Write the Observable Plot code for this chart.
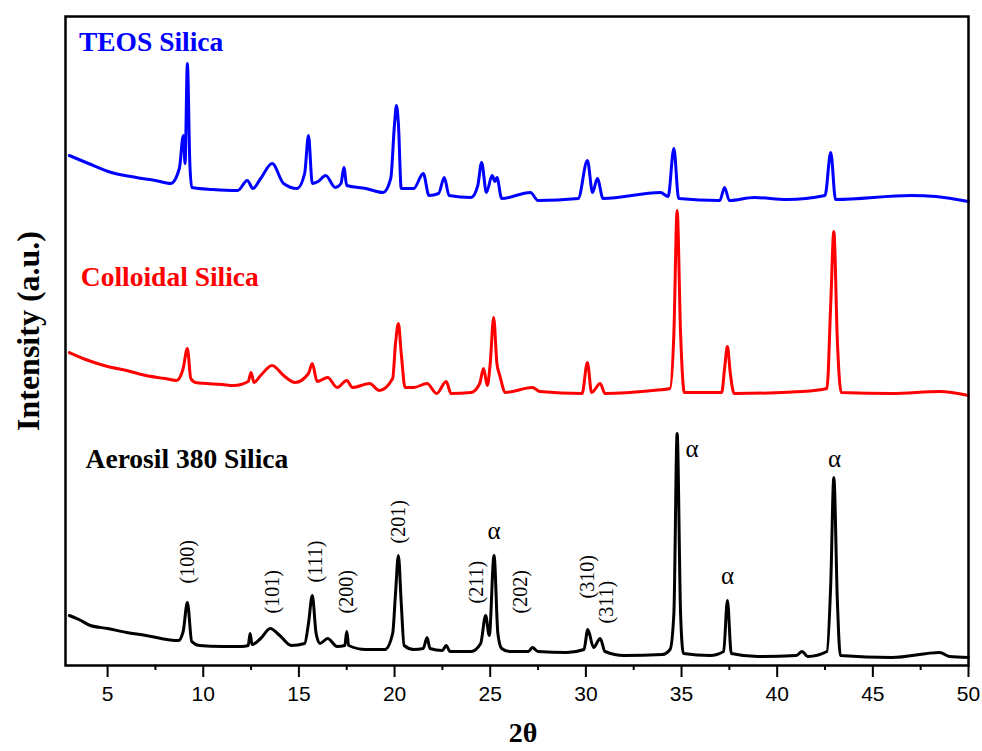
<!DOCTYPE html>
<html>
<head>
<meta charset="utf-8">
<script src="https://cdn.jsdelivr.net/npm/d3@7"></script>
<script src="https://cdn.jsdelivr.net/npm/@observablehq/plot@0.6"></script>
<style>
  html, body { margin: 0; padding: 0; background: #fff; }
</style>
</head>
<body>
<div id="chart"></div>
<script>
// ---- Data (2θ in degrees, intensity in a.u.) ----
const aerosilTheta = [3.0,3.5,4.1,5.0,6.0,7.0,7.8,8.7,8.95,9.17,9.4,9.8,11.0,12.0,12.35,12.45,12.55,13.0,13.5,14.0,14.6,15.3,15.5,15.7,15.9,16.1,16.5,17.0,17.4,17.5,17.6,18.5,19.5,19.9,20.05,20.2,20.35,20.5,21.0,21.5,21.7,21.85,22.5,22.7,22.9,24.0,24.5,24.76,24.95,25.2,25.4,25.6,26.0,27.0,27.2,27.5,29.0,29.9,30.1,30.4,30.75,31.0,32.0,34.0,34.4,34.6,34.77,34.95,35.1,36.5,37.2,37.4,37.6,39.0,41.0,41.3,41.6,42.6,42.8,42.96,43.15,43.3,46.0,48.5,49.0,50.0];
const aerosilI     = [48,44,38,35,31,28,25,23,32,61,22,18,17,17,18,30,19,25,35,28,18,20,40,68,30,20,25,17,18,32,18,14,14,30,70,108,60,18,14,15,26,15,13,18,12,12,20,48,28,108,30,15,12,12,16,12,11,14,34,16,25,12,8,9,14,50,230,50,10,8,12,63,10,7,8,12,7,12,80,186,60,8,6,11,7,6];

const colloidalTheta = [3.0,4.0,5.0,6.0,7.0,8.0,8.6,8.95,9.17,9.35,9.6,11.0,11.6,12.35,12.5,12.65,13.0,13.6,14.2,14.8,15.5,15.7,15.95,16.5,17.0,17.5,17.8,18.7,19.2,19.9,20.05,20.2,20.35,20.55,21.0,21.7,22.2,22.7,22.95,24.0,24.45,24.65,24.85,25.0,25.18,25.35,25.5,25.8,27.2,27.6,29.8,30.08,30.3,30.75,31.0,33.5,34.4,34.6,34.77,34.95,35.15,37.1,37.25,37.4,37.55,37.75,41.3,42.6,42.8,42.96,43.15,43.35,46.0,48.5,50.0];
const colloidalI     = [311,303,297,293,288,285,283,295,315,285,281,279,278,282,291,281,288,298,288,281,290,300,282,286,276,283,276,280,273,285,320,340,310,276,276,280,270,282,270,271,280,295,278,300,346,300,288,271,276,272,270,301,271,280,270,273,275,330,453,330,271,271,295,317,290,270,272,275,360,432,320,271,270,272,268];

const teosTheta = [3.0,4.0,5.2,6.5,7.5,8.3,8.75,8.96,9.05,9.17,9.3,9.4,10.5,11.8,12.3,12.6,13.0,13.6,14.2,14.9,15.3,15.5,15.7,16.0,16.4,16.9,17.2,17.35,17.5,18.5,19.4,19.8,20.0,20.1,20.2,20.35,21.0,21.5,21.8,22.3,22.6,22.85,24.0,24.35,24.55,24.8,25.1,25.25,25.35,25.6,27.1,27.5,29.6,30.08,30.35,30.6,30.9,33.9,34.3,34.6,34.85,37.0,37.25,37.5,38.8,40.5,42.5,42.8,43.05,47.0,48.3,50.0];
const teosI     = [508,500,491,486,483,480,495,528,500,600,500,476,474,473,483,475,485,500,480,475,490,528,480,482,488,476,480,496,478,475,471,485,540,558,540,475,475,490,468,470,486,468,466,478,501,471,488,482,486,465,471,463,465,503,471,485,465,471,467,515,465,463,476,463,466,464,468,511,464,468,467,462];

const seriesNames  = ["TEOS Silica", "Colloidal Silica", "Aerosil 380 Silica"];
const seriesColors = ["#0000ff", "#ff0000", "#000000"];
const seriesLabelTheta = [3.5, 3.6, 3.85];
const seriesLabelI     = [621, 386, 204];

const hklLabels = ["(100)","(101)","(111)","(200)","(201)","(211)","(202)","(310)","(311)"];
const hklTheta  = [9.17, 13.6, 15.85, 17.5, 20.2, 24.3, 26.6, 30.08, 31.1];
const hklI      = [80, 50, 81, 50, 120, 60, 50, 65, 40];

const alphaTheta = [25.2, 35.55, 37.4, 43.0];
const alphaI     = [133, 215, 88, 205];

const majorTicks = [5,10,15,20,25,30,35,40,45,50];
const minorTicks = [7.5,12.5,17.5,22.5,27.5,32.5,37.5,42.5,47.5];

// ---- Build tables ----
function rows(theta, I, name) { return theta.map((t, i) => ({theta: t, I: I[i], series: name})); }
const data = [
  ...rows(teosTheta, teosI, seriesNames[0]),
  ...rows(colloidalTheta, colloidalI, seriesNames[1]),
  ...rows(aerosilTheta, aerosilI, seriesNames[2])
];
const seriesLabels = seriesNames.map((n, i) => ({name: n, theta: seriesLabelTheta[i], I: seriesLabelI[i], color: seriesColors[i]}));
const hkl = hklLabels.map((l, i) => ({label: l, theta: hklTheta[i], I: hklI[i]}));
const alphas = alphaTheta.map((t, i) => ({label: "α", theta: t, I: alphaI[i]}));

const serif = "'Liberation Serif', 'Times New Roman', serif";

const chart = Plot.plot({
  width: 982,
  height: 751,
  marginLeft: 65,
  marginRight: 14,
  marginTop: 16,
  marginBottom: 86,
  style: {fontFamily: "'Liberation Sans', Arial, sans-serif", fontSize: "21px", background: "#fff", color: "#000"},
  x: {domain: [2.8, 50]},
  y: {domain: [-2, 647], axis: null},
  color: {domain: seriesNames, range: seriesColors},
  marks: [
    Plot.line(data, {x: "theta", y: "I", z: "series", stroke: "series", strokeWidth: 3, curve: "monotone-x"}),
    Plot.frame({stroke: "#000", strokeWidth: 2.5}),
    Plot.axisX(majorTicks, {tickSize: 12, tickPadding: 9, strokeWidth: 2, fontSize: 21, label: null}),
    Plot.axisX(minorTicks, {tickSize: 5, strokeWidth: 2, text: null, label: null}),
    Plot.text(seriesLabels, {x: "theta", y: "I", text: "name", fill: "color", textAnchor: "start", fontSize: 27.5, fontWeight: "bold", fontFamily: serif}),
    Plot.text(hkl, {x: "theta", y: "I", text: "label", rotate: -90, textAnchor: "start", fontSize: 20, fontFamily: serif, fill: "#000"}),
    Plot.text(alphas, {x: "theta", y: "I", text: "label", fontSize: 25, fontFamily: serif, fill: "#000"}),
    Plot.text(["2θ"], {frameAnchor: "bottom", lineAnchor: "middle", textAnchor: "middle", dy: 68, dx: 6, fontSize: 28, fontWeight: "bold", fontFamily: serif, fill: "#000"}),
    Plot.text(["Intensity (a.u.)"], {frameAnchor: "left", lineAnchor: "middle", textAnchor: "middle", dx: -37, dy: -10, rotate: -90, fontSize: 32, fontWeight: "bold", fontFamily: serif, fill: "#000"})
  ]
});
document.getElementById("chart").appendChild(chart);
</script>
</body>
</html>
